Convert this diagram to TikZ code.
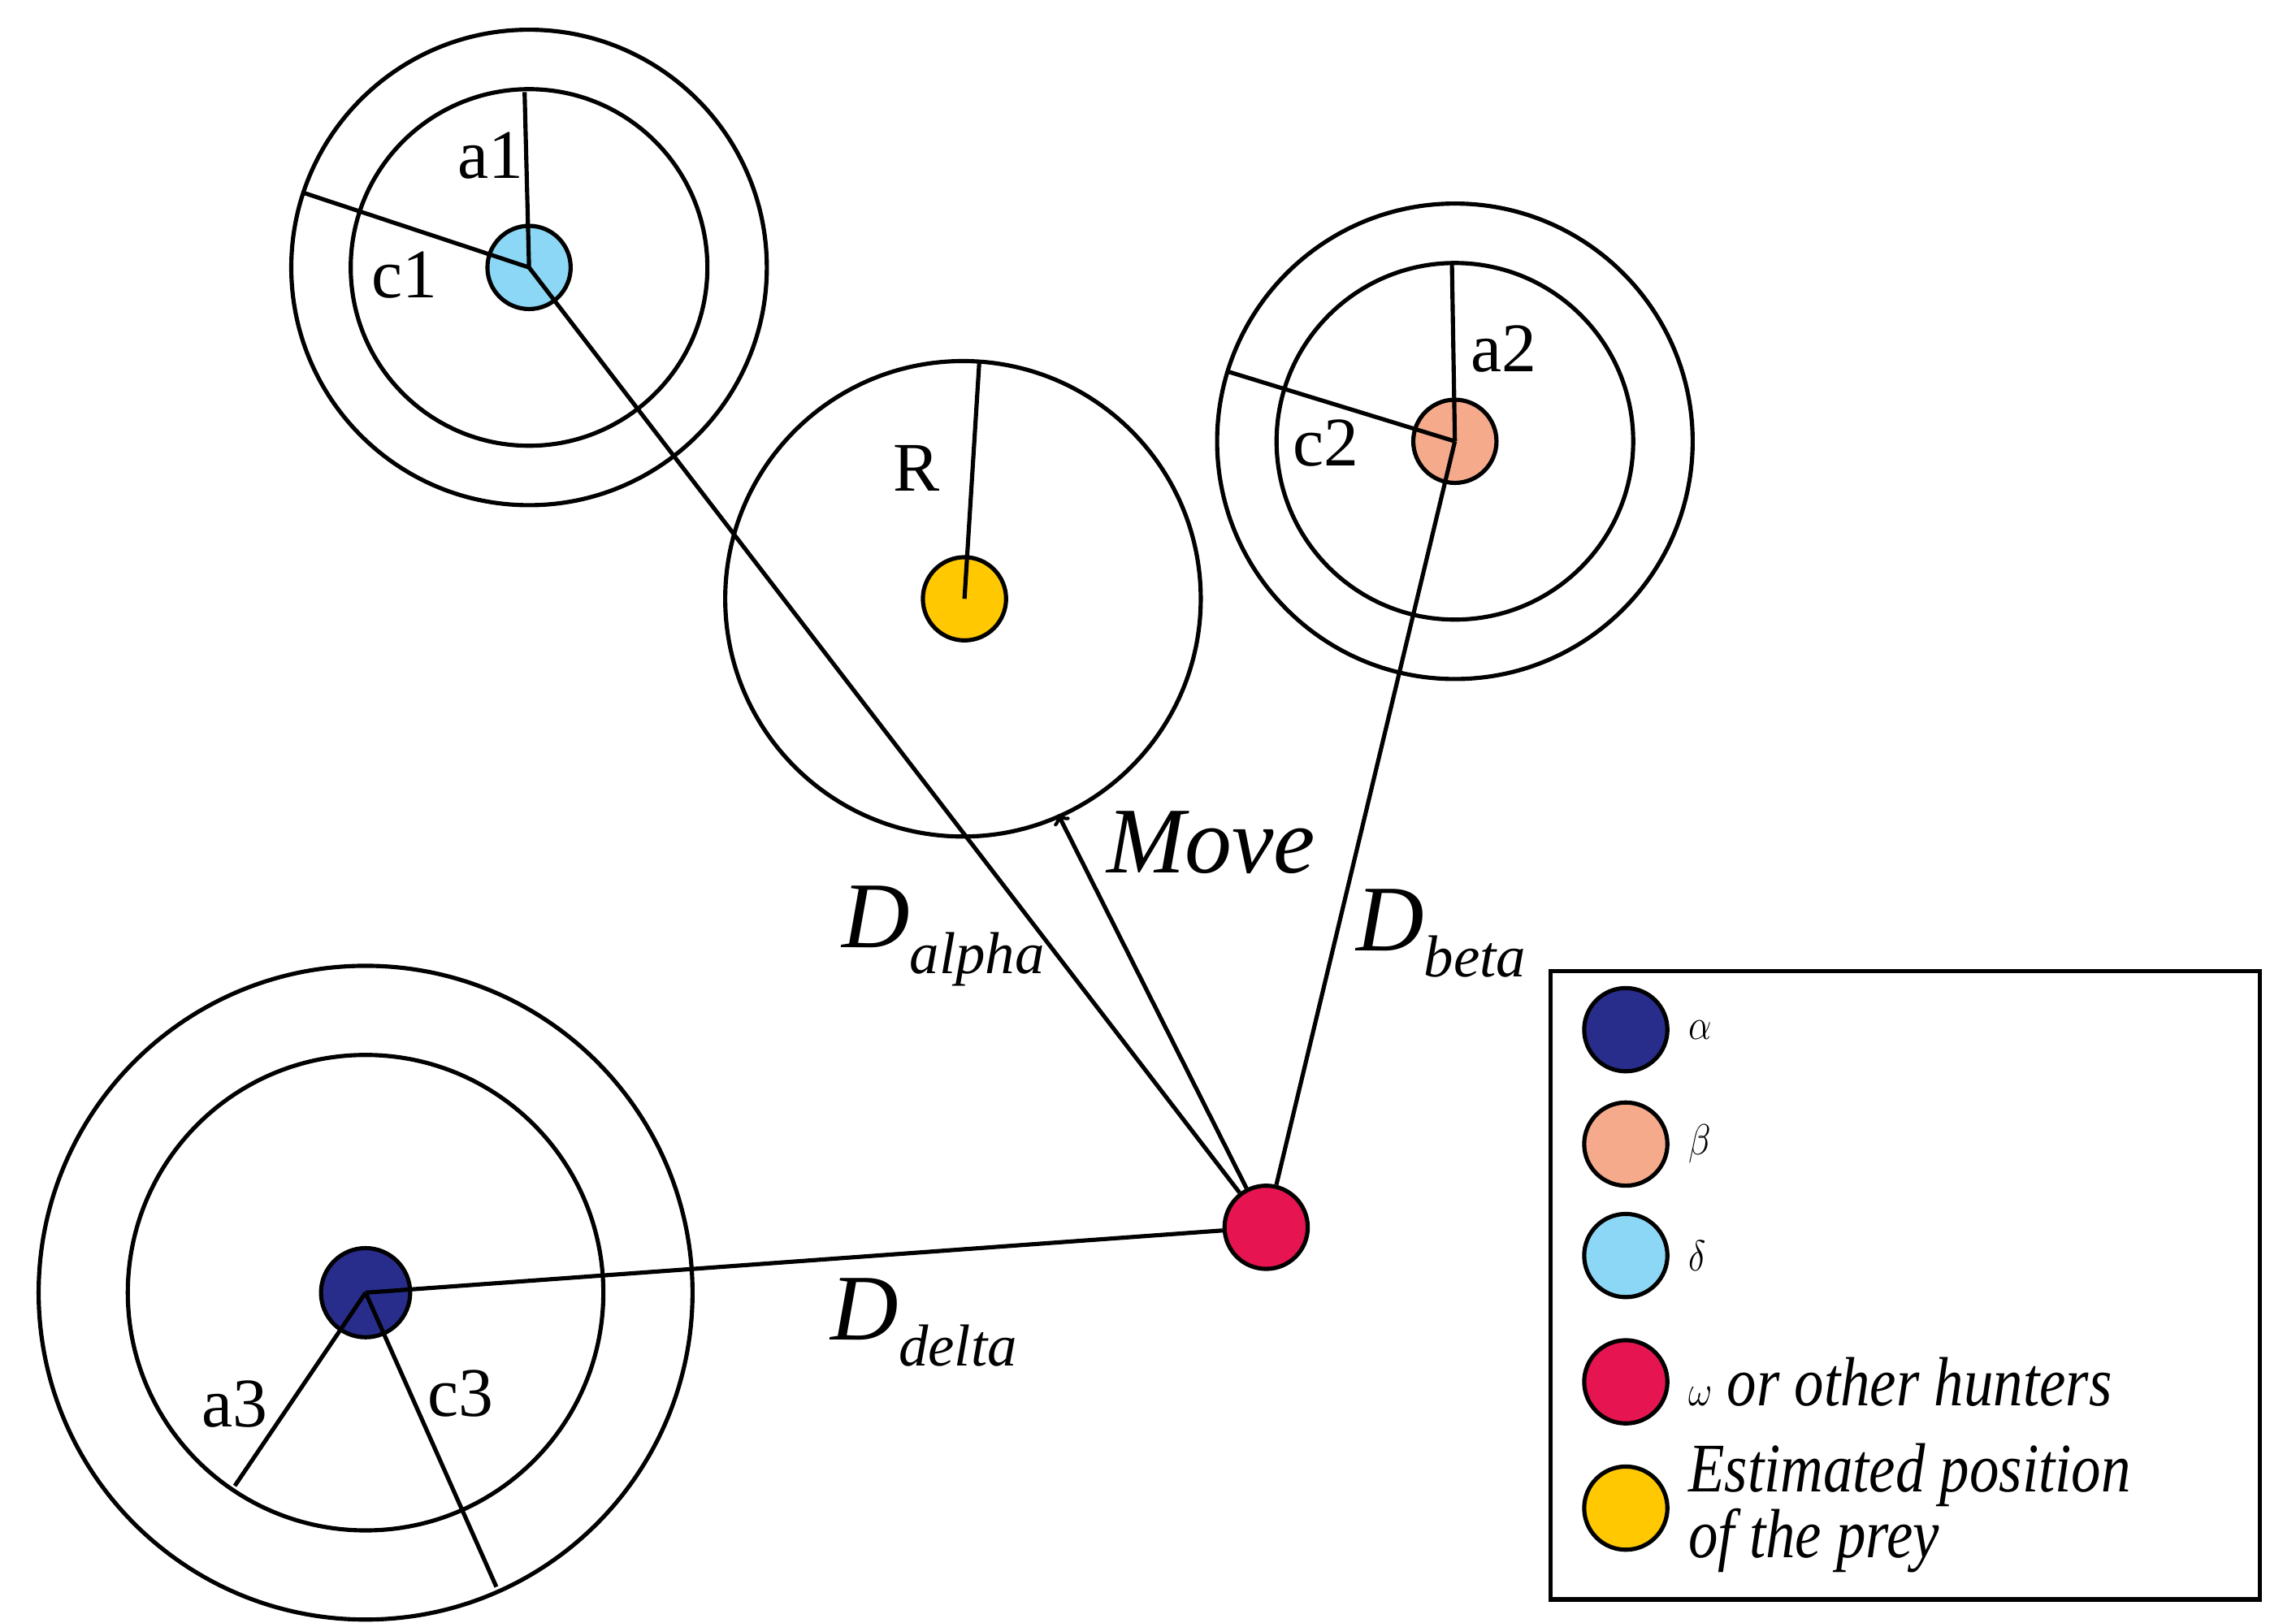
\documentclass[tikz,border=0pt]{standalone}
\usepackage{fontspec}
\setmainfont{Liberation Serif}
\begin{document}
\begin{tikzpicture}[x=0.03cm,y=-0.03cm,line width=2.4pt,
  dot/.style={circle,draw,line width=2.4pt,minimum size=1.68cm,inner sep=0pt},
  lab/.style={font=\fontsize{40}{44}\selectfont,inner sep=0pt},
  dl/.style={font=\fontsize{54}{60}\selectfont\itshape,inner sep=0pt},
  leg/.style={font=\fontsize{40}{40}\selectfont\itshape,anchor=west,inner sep=0pt,xscale=0.85}]
\definecolor{cdelta}{RGB}{140,215,245}
\definecolor{cbeta}{RGB}{245,170,140}
\definecolor{cprey}{RGB}{255,200,0}
\definecolor{comega}{RGB}{230,20,80}
\definecolor{calpha}{RGB}{40,45,140}
\useasboundingbox (0,0) rectangle (1545,1092);
% rings
\draw (356,180) circle[radius=120] (356,180) circle[radius=160];
\draw (648,403) circle[radius=160];
\draw (979,297) circle[radius=120] (979,297) circle[radius=160];
\draw (246,870) circle[radius=160] (246,870) circle[radius=220];
\coordinate (da) at (353,62); \coordinate (dc) at (205,130);
\coordinate (pr) at (659,243);
\coordinate (ba) at (977,177); \coordinate (bc) at (826,250);
\coordinate (aa) at (158,1000); \coordinate (ac) at (334,1068);
\coordinate (mv) at (712,548);
\node[dot,fill=cdelta] (delta) at (356,180) {};
\node[dot,fill=cprey] (prey) at (649,403) {};
\node[dot,fill=cbeta] (beta) at (979,297) {};
\node[dot,fill=calpha,minimum size=1.8cm] (alpha) at (246,870) {};
\node[dot,fill=comega] (omega) at (852,826) {};
\draw (delta.center) -- (da) (delta.center) -- (dc);
\draw (prey.center) -- (pr);
\draw (beta.center) -- (ba) (beta.center) -- (bc);
\draw (alpha.center) -- (aa) (alpha.center) -- (ac);
\draw (omega) -- (delta.center);
\draw (omega) -- (beta.center);
\draw (omega) -- (alpha.center);
\draw[->] (omega) -- (mv);
\node[lab] at (330,105) {a1};
\node[lab] at (272,185) {c1};
\node[lab] at (1012,235) {a2};
\node[lab] at (892,298) {c2};
\node[lab] at (617,315) {R};
\node[lab] at (158,945) {a3};
\node[lab] at (310,938) {c3};
\node[dl] at (815,567) {Move};
\node[dl] at (635,630) {D\textsubscript{\fontsize{34}{34}\selectfont alpha}};
\node[dl] at (970,628) {D\textsubscript{\fontsize{34}{34}\selectfont beta}};
\node[dl] at (622,890) {D\textsubscript{\fontsize{34}{34}\selectfont delta}};
% legend
\node[draw,line width=2.4pt,minimum width=14.31cm,minimum height=12.69cm,anchor=north west,inner sep=0pt] (box) at (1042,652) {};
\node[dot,fill=calpha] (l1) at (1094,693) {};
\node[dot,fill=cbeta] (l2) at (1094,770) {};
\node[dot,fill=cdelta] (l3) at (1094,845) {};
\node[dot,fill=comega] (l4) at (1094,930) {};
\node[dot,fill=cprey] (l5) at (1094,1015) {};
\node[leg] at (1135,693) {$\alpha$};
\node[leg] at (1135,770) {$\beta$};
\node[leg] at (1135,845) {$\delta$};
\node[leg] at (1135,930) {$\omega$ or other hunters};
\node[leg,align=left,font=\fontsize{40}{30}\selectfont\itshape] at (1135,1015) {Estimated position\\of the prey};
\end{tikzpicture}
\end{document}
